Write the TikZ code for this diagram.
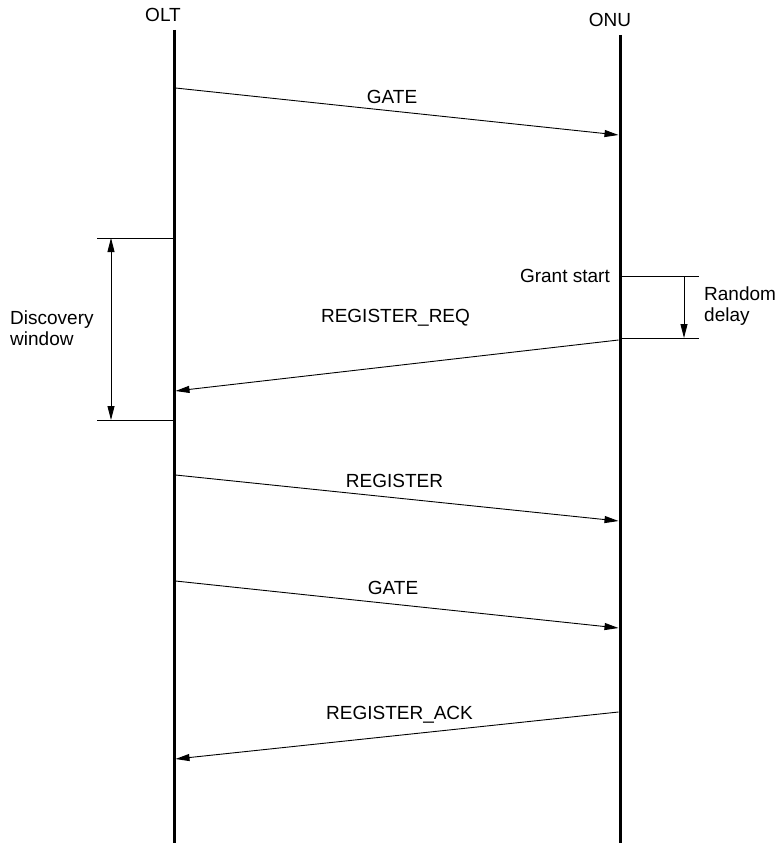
\documentclass[tikz,border=0pt]{standalone}
\usepackage{fontspec}
\setmainfont{Liberation Sans}
\usetikzlibrary{arrows.meta}
\tikzset{
  life/.style={line width=3pt},
  msg/.style={line width=0.9pt,-{Triangle[length=14pt,width=7pt]}},
  tick/.style={line width=0.9pt},
  dim/.style={line width=0.9pt},
  lbl/.style={inner sep=0pt,font=\fontsize{19}{21.5}\selectfont},
}
\begin{document}
\begin{tikzpicture}[x=1pt,y=-1pt]
\useasboundingbox (0,0) rectangle (776,843);
% lifelines
\coordinate (olttop) at (174,30);
\coordinate (oltbot) at (174,843);
\coordinate (onutop) at (620,35);
\coordinate (onubot) at (620,843);
\draw[life] (olttop) -- (oltbot);
\draw[life] (onutop) -- (onubot);
\node[lbl] (olt) at (163,15) {OLT};
\node[lbl] (onu) at (610,20) {ONU};
% messages
\coordinate (g1a) at (175.5,88);  \coordinate (g1b) at (618.5,135);
\draw[msg] (g1a) -- (g1b);
\node[lbl] (gate1) at (392,97) {GATE};
\coordinate (rqa) at (618.5,340); \coordinate (rqb) at (175.5,391);
\draw[msg] (rqa) -- (rqb);
\node[lbl] (regreq) at (395.5,318) {REGISTER\_REQ};
\coordinate (rga) at (175.5,475); \coordinate (rgb) at (618.5,521);
\draw[msg] (rga) -- (rgb);
\node[lbl] (reg) at (394.5,481) {REGISTER};
\coordinate (g2a) at (175.5,581); \coordinate (g2b) at (618.5,628);
\draw[msg] (g2a) -- (g2b);
\node[lbl] (gate2) at (393,588) {GATE};
\coordinate (aka) at (618.5,712); \coordinate (akb) at (175.5,759);
\draw[msg] (aka) -- (akb);
\node[lbl] (regack) at (399.5,715) {REGISTER\_ACK};
% discovery window
\coordinate (dw1a) at (97,238); \coordinate (dw1b) at (174,238);
\coordinate (dw2a) at (97,420); \coordinate (dw2b) at (174,420);
\draw[tick] (dw1a) -- (dw1b);
\draw[tick] (dw2a) -- (dw2b);
\coordinate (dwt) at (111,238); \coordinate (dwb) at (111,420);
\draw[dim,{Triangle[length=14pt,width=7pt]}-{Triangle[length=14pt,width=7pt]}] (dwt) -- (dwb);
\node[lbl,anchor=west,align=left] (disc) at (10,328) {Discovery\\window};
% grant start / random delay
\coordinate (gsa) at (620,276); \coordinate (gsb) at (699,276);
\coordinate (rda) at (620,338); \coordinate (rdb) at (699,338);
\draw[tick] (gsa) -- (gsb);
\draw[tick] (rda) -- (rdb);
\node[lbl,anchor=east] (grant) at (610,276) {Grant start};
\coordinate (rdt) at (684,276); \coordinate (rdbt) at (684,338);
\draw[dim,-{Triangle[length=14pt,width=7pt]}] (rdt) -- (rdbt);
\node[lbl,anchor=west,align=left] (rand) at (704,306) {Random\\delay};
\end{tikzpicture}
\end{document}
